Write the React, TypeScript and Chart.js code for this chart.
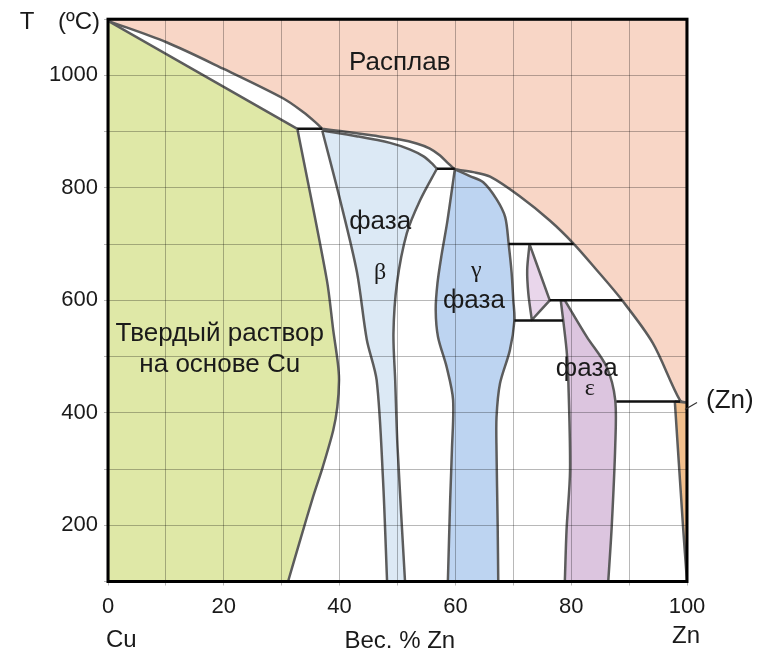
import React, { useEffect, useRef } from "react";
import { Chart, registerables } from "chart.js";

Chart.register(...registerables);

type P = [number, number];

// axis ticks
const xTickLabels = [0, 20, 40, 60, 80, 100];
const yTickLabels = [200, 400, 600, 800, 1000];

// phase boundaries: [wt.% Zn, T °C]
const cuLiquidus: P[] = [[0, 1097], [10.1, 1059], [19.9, 1012], [30.3, 959], [33.7, 935], [35.8, 917], [37.0, 905]];
const betaLiquidus: P[] = [[37.0, 905], [40.1, 901], [45.8, 893], [50.4, 886], [53.3, 879], [55.6, 870], [57.3, 858], [58.8, 843], [59.9, 833]];
const znLiquidus: P[] = [[59.9, 833], [63.1, 828], [66.0, 820], [71.0, 786], [76.3, 742], [80.4, 701], [84.4, 654], [88.8, 600], [94.1, 524], [98.8, 422], [100, 418]];

const alphaSolidus: P[] = [[0, 1097], [32.7, 905]];
const alphaSolvus: P[] = [[32.7, 905], [37.8, 636], [38.9, 547], [39.7, 488], [39.9, 458], [39.6, 410], [38.9, 369], [37.1, 304], [35.4, 250], [33.2, 174], [31.1, 100]];

const betaSolidus: P[] = [[37.0, 902], [42.9, 892], [48.7, 880], [52.2, 868], [54.5, 856], [55.9, 844], [56.8, 834]];
const betaLeft: P[] = [[37.0, 902], [40.1, 778], [43.0, 650], [44.7, 530], [46.4, 458], [47.5, 281], [48.2, 100]];
const betaRight: P[] = [[56.8, 834], [53.9, 778], [51.6, 719], [49.9, 630], [49.3, 541], [49.6, 458], [50.0, 340], [51.3, 100]];

const gammaLeft: P[] = [[59.9, 833], [58.6, 740], [57.6, 680], [56.9, 630], [56.6, 583], [57.0, 535], [58.5, 481], [59.6, 423], [59.4, 334], [59.1, 246], [58.7, 100]];
const gammaRight: P[] = [[59.9, 833], [62.5, 821], [64.8, 810], [67.1, 780], [68.6, 748], [69.2, 700], [69.7, 650], [70.0, 600], [70.2, 565], [69.4, 511], [67.7, 452], [67.1, 392], [67.1, 334], [67.3, 200], [67.4, 100]];

const deltaLeft: P[] = [[72.8, 700], [72.4, 654], [72.6, 612], [73.2, 565]];
const deltaTip: P = [76.3, 600];

const epsilonLeft: P[] = [[78.2, 600], [79.2, 512], [79.5, 458], [79.8, 298], [79.2, 192], [78.9, 100]];
const epsilonRight: P[] = [[78.9, 600], [82.7, 535], [86.1, 482], [87.6, 423], [87.6, 340], [87.0, 198], [86.4, 100]];

const znSolvus: P[] = [[97.9, 420], [99.3, 200], [100, 100]];

// invariant horizontals
const isothermT = [905, 834, 700, 600, 564, 420];
const isothermFrom = [32.7, 56.8, 69.2, 76.3, 70.2, 87.8];
const isothermTo = [37.0, 59.9, 80.4, 88.8, 78.6, 98.8];

// in-plot labels
const labelText = ["Расплав", "фаза", "β", "γ", "фаза", "Твердый раствор", "на основе Cu", "фаза", "ε"];
const labelX = [50.4, 47.0, 47.0, 63.6, 63.2, 19.3, 19.3, 82.7, 83.2];
const labelT = [1023, 739, 650, 652, 600, 541, 485, 479, 443];
const labelSerif = [false, false, true, true, false, false, false, false, true];

const SANS = '"Liberation Sans", Arial, sans-serif';
const SERIF = '"Liberation Serif", "Times New Roman", serif';

// concatenate boundary pieces; shared end points are kept twice so corners stay sharp
const join = (...parts: P[][]): P[] => parts.reduce((acc: P[], p) => acc.concat(p), []);
const rev = (pts: P[]): P[] => pts.slice().reverse();

export default function App() {
  const ref = useRef<HTMLCanvasElement>(null);

  useEffect(() => {
    const canvas = ref.current;
    if (!canvas) return;

    const edge = "#5c5c5c";
    const toXY = (pts: P[]) => pts.map(([x, y]) => ({ x, y }));
    const poly = (pts: P[], color: string, order: number) => ({
      data: toXY(pts),
      showLine: true,
      fill: "shape",
      backgroundColor: color,
      borderColor: edge,
      borderWidth: 2.5,
      borderJoinStyle: "round",
      pointRadius: 0,
      tension: 0.3,
      order,
    });

    const liquid = join([[0, 1100], [0, 1097]], cuLiquidus, betaLiquidus, znLiquidus, [[100, 418], [100, 1100], [100, 1100], [0, 1100]]);
    const alpha = join([[0, 100], [0, 1097]], alphaSolidus, alphaSolvus, [[31.1, 100], [0, 100]]);
    const beta = join(betaSolidus, betaRight, [[51.3, 100], [48.2, 100]], rev(betaLeft));
    const gamma = join(gammaRight, [[67.4, 100], [58.7, 100]], rev(gammaLeft));
    const delta = join([deltaLeft[0], deltaTip], [deltaTip, deltaLeft[deltaLeft.length - 1]], rev(deltaLeft));
    const epsilon = join(epsilonRight, [[86.4, 100], [78.9, 100]], rev(epsilonLeft), [epsilonLeft[0], epsilonRight[0]]);
    const zn = join([znSolvus[0], [100, 418]], [[100, 418], [100, 100]], rev(znSolvus));

    const datasets: any[] = [
      poly(liquid, "#f8d6c6", 20),
      poly(alpha, "#dfe8a7", 10),
      poly(beta, "#dce9f5", 10),
      poly(gamma, "#bdd4f1", 10),
      poly(delta, "#e9d6eb", 10),
      poly(epsilon, "#dcc5df", 10),
      poly(zn, "#f2bf8c", 10),
    ];
    isothermT.forEach((t, i) => {
      datasets.push({
        data: [{ x: isothermFrom[i], y: t }, { x: isothermTo[i], y: t }],
        showLine: true,
        fill: false,
        borderColor: "#111",
        borderWidth: 2.5,
        pointRadius: 0,
        order: 0,
      });
    });

    const decor = {
      id: "decor",
      afterDraw(chart: any) {
        const { ctx, chartArea: a, scales } = chart;
        ctx.save();
        ctx.strokeStyle = "#000";
        ctx.lineWidth = 3;
        ctx.strokeRect(a.left, a.top, a.right - a.left, a.bottom - a.top);

        ctx.fillStyle = "#1a1a1a";
        ctx.textAlign = "center";
        ctx.textBaseline = "middle";
        labelText.forEach((txt, i) => {
          ctx.font = labelSerif[i] ? `24px ${SERIF}` : `26px ${SANS}`;
          ctx.fillText(txt, scales.x.getPixelForValue(labelX[i]), scales.y.getPixelForValue(labelT[i]));
        });

        ctx.font = `24px ${SANS}`;
        ctx.fillText("T", a.left - 81, a.top + 3);
        ctx.textAlign = "right";
        ctx.fillText("(ºC)", a.left - 8, a.top + 3);

        ctx.textAlign = "left";
        ctx.fillText("Cu", a.left - 2, a.bottom + 59);
        ctx.textAlign = "center";
        ctx.fillText("Вес. % Zn", scales.x.getPixelForValue(50.4), a.bottom + 60);
        ctx.fillText("Zn", a.right - 1, a.bottom + 55);

        ctx.font = `26px ${SANS}`;
        ctx.textAlign = "left";
        ctx.fillText("(Zn)", a.right + 19, scales.y.getPixelForValue(420) - 1);
        ctx.strokeStyle = "#333";
        ctx.lineWidth = 1.2;
        ctx.beginPath();
        ctx.moveTo(a.right - 2, scales.y.getPixelForValue(420) + 8);
        ctx.lineTo(a.right + 10, scales.y.getPixelForValue(420) + 1);
        ctx.stroke();
        ctx.restore();
      },
    };

    const chart = new Chart(canvas, {
      type: "scatter",
      data: { datasets },
      options: {
        animation: false,
        responsive: false,
        events: [],
        layout: { padding: { left: 0, top: 19, right: 71, bottom: 0 } },
        plugins: { legend: { display: false }, tooltip: { enabled: false } },
        scales: {
          x: {
            type: "linear",
            min: 0,
            max: 100,
            afterFit: (s: any) => { s.height = 72.5; },
            ticks: {
              stepSize: 10,
              autoSkip: false,
              maxRotation: 0,
              padding: 8,
              color: "#1a1a1a",
              font: { family: SANS, size: 22 },
              callback: (v: any) => (xTickLabels.includes(Number(v)) ? String(v) : ""),
            },
            grid: { color: "rgba(0,0,0,0.28)", lineWidth: 1, z: 1, tickLength: 4 },
            border: { display: false },
          },
          y: {
            type: "linear",
            min: 100,
            max: 1100,
            afterFit: (s: any) => { s.width = 108; },
            ticks: {
              stepSize: 100,
              autoSkip: false,
              padding: 6,
              color: "#1a1a1a",
              font: { family: SANS, size: 22 },
              callback: (v: any) => (yTickLabels.includes(Number(v)) ? String(v) : ""),
            },
            grid: { color: "rgba(0,0,0,0.28)", lineWidth: 1, z: 1, tickLength: 4 },
            border: { display: false },
          },
        },
      } as any,
      plugins: [decor],
    });

    return () => chart.destroy();
  }, []);

  return (
    <div style={{ position: "fixed", left: 0, top: 0, width: 758, height: 654, background: "#fff" }}>
      <canvas ref={ref} width={758} height={654} style={{ display: "block" }} />
    </div>
  );
}
